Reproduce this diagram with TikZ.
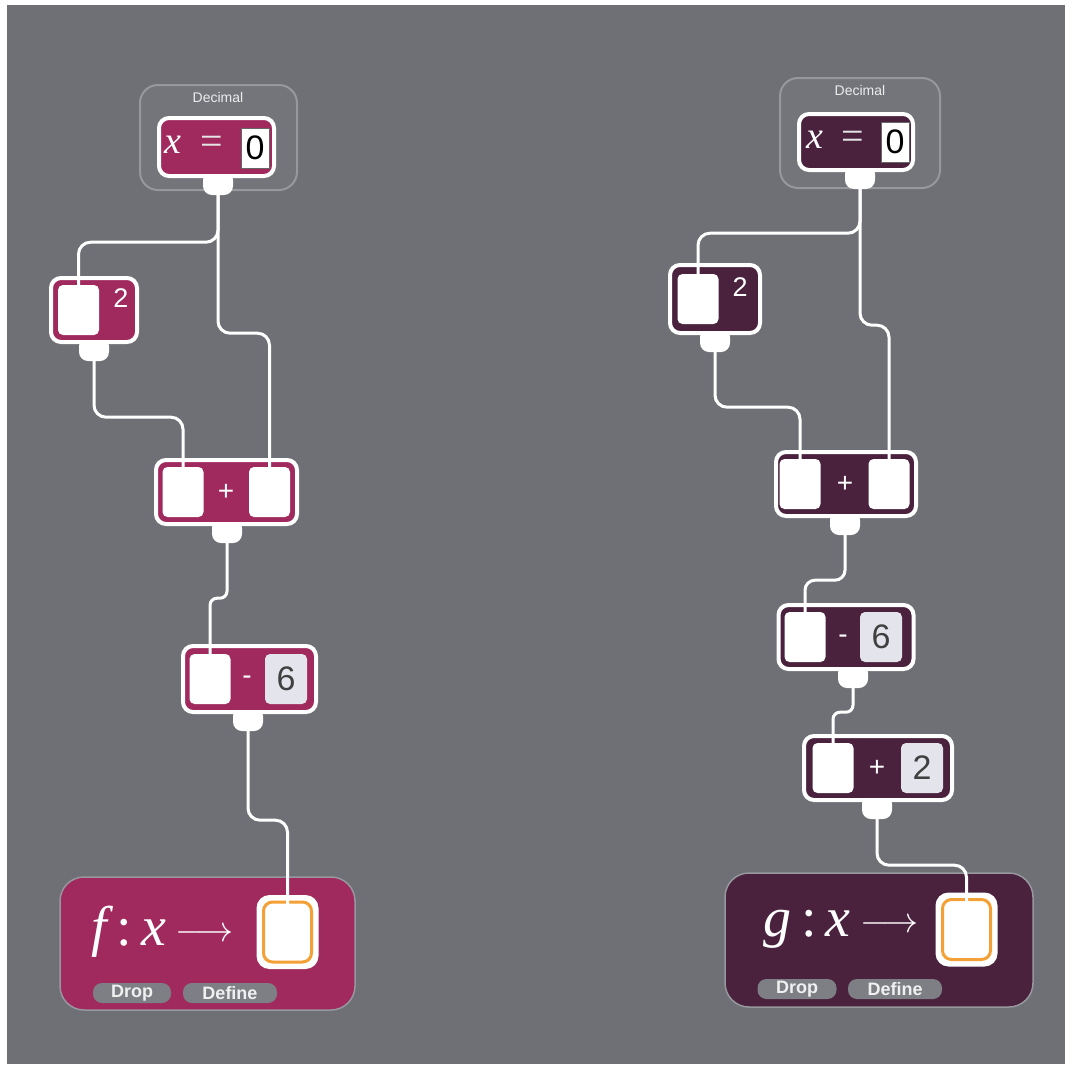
\documentclass[tikz,border=0pt]{standalone}
\usepackage{fontspec}
\usepackage{graphicx}
\setmainfont{Liberation Sans}
\newfontfamily\tmsfont{Liberation Serif}
\usetikzlibrary{positioning}

\definecolor{bggray}{RGB}{110,112,118}
\definecolor{magblk}{RGB}{160,42,94}
\definecolor{purblk}{RGB}{74,34,62}
\definecolor{framegray}{RGB}{150,152,158}
\definecolor{pillgray}{RGB}{125,127,133}
\definecolor{valgray}{RGB}{228,228,236}
\definecolor{ringorange}{RGB}{243,160,55}

\newcommand{\maparrow}{\raisebox{4pt}{\scalebox{1.45}{$\longrightarrow$}}}

\tikzset{
  block/.style={draw=white, line width=4pt, rounded corners=10pt, inner sep=0pt},
  inbox/.style={fill=white, rounded corners=5pt, minimum width=41pt, minimum height=50pt, inner sep=0pt},
  valbox/.style={fill=valgray, rounded corners=5pt, minimum width=42pt, minimum height=50pt, inner sep=0pt, text=black!75, font=\fontsize{34}{34}\selectfont},
  zerobox/.style={fill=white, draw=black!60, line width=0.8pt, minimum width=28pt, minimum height=40pt, inner sep=0pt, font=\fontsize{34}{34}\selectfont},
  port/.style={fill=white, rounded corners=9pt, minimum width=30pt, minimum height=24pt, inner sep=0pt},
  wire/.style={draw=white, line width=3pt, rounded corners=12pt},
  optext/.style={text=white, font=\fontsize{28}{28}\selectfont},
  numtext/.style={text=white, font=\fontsize{27}{27}\selectfont},
  vartext/.style={text=white, font=\fontsize{38}{38}\selectfont\tmsfont\itshape},
  eqtext/.style={text=white!80!gray, font=\fontsize{40}{40}\selectfont\tmsfont},
  decframe/.style={draw=framegray, line width=2pt, rounded corners=18pt, fill=white, fill opacity=0.04, inner sep=0pt},
  declabel/.style={text=white!85!gray, font=\fontsize{14}{14}\selectfont},
  fnblock/.style={draw=framegray, line width=1.5pt, rounded corners=24pt, inner sep=0pt, minimum height=133pt},
  fntext/.style={text=white, font=\fontsize{56}{56}\selectfont\tmsfont},
  outbox/.style={fill=white, rounded corners=13pt, minimum width=62pt, minimum height=74pt, inner sep=0pt},
  ring/.style={fill=white, draw=ringorange, line width=3pt, rounded corners=9pt, minimum width=48pt, minimum height=60pt, inner sep=0pt},
  pill/.style={fill=pillgray, rounded corners=9pt, minimum height=20pt, inner sep=0pt, text=white!88!gray, font=\fontsize{18}{18}\selectfont\bfseries},
}

\begin{document}
\begin{tikzpicture}[x=1pt, y=-1pt]
\useasboundingbox (0,0) rectangle (1065,1068);
\fill[white] (0,0) rectangle (1065,1068);
\fill[bggray] (7,5) rectangle (1065,1064);

% ---- left chain: f ----
\node[decframe, minimum width=157pt, minimum height=105pt] (dec1) at (218.5,137.5) {};
\node[declabel] at (218,97) {Decimal};
\node[port] (dec1port) at (218,183) {};
\node[block, fill=magblk, minimum width=115pt, minimum height=58pt] (xv1) at (216.5,147) {};
\node[vartext] at (173,145) {x};
\node[eqtext] at (212,145) {=};
\node[zerobox] (xz1) at (255,148) {0};

\node[port] (two1port) at (94,349) {};
\node[block, fill=magblk, minimum width=86pt, minimum height=64pt] (two1) at (94,310) {};
\node[inbox] (two1in) at (78.5,310) {};
\node[numtext] at (121,298) {2};

\node[port] (plus1port) at (227,531) {};
\node[block, fill=magblk, minimum width=141pt, minimum height=64pt] (plus1) at (226.5,492) {};
\node[inbox] (plus1inA) at (183,492) {};
\node[inbox] (plus1inB) at (269.5,492) {};
\node[optext] at (226,492) {+};

\node[port] (minus1port) at (248,719) {};
\node[block, fill=magblk, minimum width=133pt, minimum height=66pt] (minus1) at (249.5,679) {};
\node[inbox] (minus1in) at (210,679) {};
\node[optext] at (247,680) {-};
\node[valbox] (minus1val) at (286,679) {6};

\node[fnblock, fill=magblk, minimum width=295pt] (fdef) at (207.5,943.5) {};
\node[fntext] at (163,932) {{\itshape f}\,:\,{\itshape x}\,\maparrow};
\node[outbox] (fout) at (287.5,932) {};
\node[ring] at (fout) {};
\node[pill, minimum width=78pt] (fdrop) at (132,993) {Drop};
\node[pill, minimum width=94pt] (fdefine) at (230,993) {Define};

\draw[wire] (dec1port.south) -- ++(0,47) -| ([yshift=-4pt]two1in.north);
\draw[wire] (dec1port.south) -- ++(0,138) -| ([yshift=-4pt]plus1inB.north);
\draw[wire] (two1port.south) -- ++(0,56) -| ([yshift=-4pt]plus1inA.north);
\draw[wire, rounded corners=7pt] (plus1port.south) -- ++(0,55) -| ([yshift=-4pt]minus1in.north);
\draw[wire] (minus1port.south) -- ++(0,89) -| ([yshift=-12pt]fout.north);

% ---- right chain: g ----
\node[decframe, minimum width=160pt, minimum height=110pt] (dec2) at (860,133) {};
\node[declabel] at (860,90) {Decimal};
\node[port] (dec2port) at (860,177) {};
\node[block, fill=purblk, minimum width=114pt, minimum height=56pt] (xv2) at (856,142) {};
\node[vartext] at (815,140) {x};
\node[eqtext] at (853,140) {=};
\node[zerobox] (xz2) at (895,142) {0};

\node[port] (two2port) at (715,340) {};
\node[block, fill=purblk, minimum width=90pt, minimum height=68pt] (two2) at (715,299) {};
\node[inbox] (two2in) at (698,299) {};
\node[numtext] at (740,287) {2};

\node[port] (plus2port) at (845,523) {};
\node[block, fill=purblk, minimum width=140pt, minimum height=64pt] (plus2) at (846,484) {};
\node[inbox] (plus2inA) at (800,484) {};
\node[inbox] (plus2inB) at (889,484) {};
\node[optext] at (845,484) {+};

\node[port] (minus2port) at (853,676) {};
\node[block, fill=purblk, minimum width=135pt, minimum height=64pt] (minus2) at (846,637) {};
\node[inbox] (minus2in) at (805,637) {};
\node[optext] at (843,639) {-};
\node[valbox] (minus2val) at (881,637) {6};

\node[port] (plustwo2port) at (877,807) {};
\node[block, fill=purblk, minimum width=148pt, minimum height=64pt] (plustwo2) at (878,768) {};
\node[inbox] (plustwo2in) at (833,768) {};
\node[optext] at (877,768) {+};
\node[valbox] (plustwo2val) at (922,768) {2};

\node[fnblock, fill=purblk, minimum width=308pt, minimum height=134pt] (gdef) at (879,940) {};
\node[fntext] at (841,929) {{\itshape g}\,:\,{\itshape x}\,\maparrow};
\node[outbox] (gout) at (966.5,929.5) {};
\node[ring] at (gout) {};
\node[pill, minimum width=79pt] (gdrop) at (797,989) {Drop};
\node[pill, minimum width=94pt] (gdefine) at (895,989) {Define};

\draw[wire] (dec2port.south) -- ++(0,44) -| ([yshift=-4pt]two2in.north);
\draw[wire] (dec2port.south) -- ++(0,136) -| ([yshift=-4pt]plus2inB.north);
\draw[wire] (two2port.south) -- ++(0,55) -| ([yshift=-4pt]plus2inA.north);
\draw[wire, rounded corners=10pt] (plus2port.south) -- ++(0,45) -| ([yshift=-4pt]minus2in.north);
\draw[wire, rounded corners=7pt] (minus2port.south) -- ++(0,24) -| ([yshift=-4pt]plustwo2in.north);
\draw[wire] (plustwo2port.south) -- ++(0,46) -| ([yshift=-12pt]gout.north);
\end{tikzpicture}
\end{document}
